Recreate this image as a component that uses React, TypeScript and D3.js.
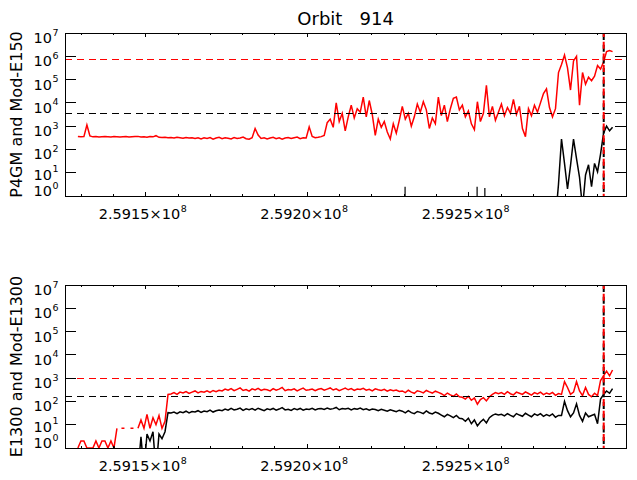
import * as d3 from 'd3';

// instrument time grid (s)
const T0 = 259129000;
const DT = 930;

const X_DOMAIN: [number, number] = [259125100, 259298700];
const xMajorTicks = [259150000, 259200000, 259250000];
const xMinorTicks = d3.range(259130000, 259298700, 10000);
const yTickExponents = [0, 1, 2, 3, 4, 5, 6, 7];

const titleText = 'Orbit   914';
const topYTitle = 'P4GM and Mod-E150';
const bottomYTitle = 'E1300 and Mod-E1300';

// top panel: P4GM (red), Mod-E150 (black)
const topRed = [
  355, 347, 355, 1120, 380,
  347, 355, 339, 347, 355, 347, 339, 355, 347, 339, 347, 355, 339, 347, 355, 363, 339, 347, 331, 355,
  347, 389, 331,
  324, 331, 316, 324, 309, 331, 316, 302, 324, 309, 316, 295, 316,
  282, 316, 295, 324, 275, 309, 331, 288, 316, 302, 282, 324, 295, 309, 339, 288, 275, 316,
  794, 417,
  295, 316, 282, 309, 331, 288, 316, 275, 309, 324, 295, 316, 339, 288, 316, 309,
  933, 363, 316, 331, 355, 398,
  1410, 2000, 890, 10000, 1580, 3550, 630, 2510, 7940, 2240, 5620, 3980, 17800, 2510, 12600, 3160,
  398, 2000, 890, 1580, 562, 282, 1260, 501, 1780, 7080, 2000, 3550, 1000, 2510, 8910, 3980,
  11200, 5010, 794, 2240, 1260, 17800, 2820, 7940, 1580, 5620, 15800, 17800, 5010, 7940, 2510, 4470,
  1260, 708, 11200, 1580, 3550, 56200, 2510, 7080, 1780, 3980, 8910, 2820, 6310, 3550, 14100, 3160,
  7080, 794, 355, 5620, 2820, 7940, 3980, 10000, 25100, 39800, 6310, 2510, 5620,
  200000, 447000, 1120000, 316000, 35500, 631000, 1000000, 7940, 200000, 63100, 126000, 89100,
  141000, 398000, 282000, 562000, 1580000, 1780000, 1580000,
];
const topBlackStart = 159;
const topBlack = [
  0.1, 3.2, 280, 25, 2, 20, 280, 40, 6.3, 0.3, 8, 22, 2.5, 25, 11, 63, 500, 1000, 630, 890,
];
const topBlipTimes = [259230300, 259252600, 259255000];
const topBlipValues = [2.5, 2.5, 2.2];
const topRedLevel = 7.4e5;
const topBlackLevel = 3570;

// bottom panel: E1300 (black), Mod-E1300 (red)
const bottomRed: (number | null)[] = [
  1, 2, 2, 1, 1, 1, 2, 1, 2, 2, 1, 2, 1,
  7, null, 7, null, null, 7, null,
  7, 16, 7, 28, 7, 20, 10, 25, 7, 14,
  200,
  209, 240, 200, 251, 229, 263, 219, 251, 282, 234, 269, 251, 288, 245, 295, 263, 302,
  282, 339, 302, 355, 288, 331, 380, 295, 324, 275, 347, 309, 363, 295, 331, 316, 282,
  355, 302, 339, 398, 288, 324, 309, 347, 282, 331, 372, 302, 316, 339, 288, 331,
  355, 302, 339, 380, 309, 347, 288, 331, 372, 316, 355, 295, 339, 324, 363, 302, 331,
  282, 347, 316, 295, 331, 275, 316, 288, 309, 269,
  282, 240, 302, 251, 224, 288, 263, 234, 295, 257, 229, 275, 245,
  214, 178, 229, 191, 166, 209, 158,
  151, 126, 166, 112, 141, 76, 120, 145, 105, 158,
  200, 240, 214,
  240, 200, 263, 214, 191, 251, 224, 200, 257, 219, 186, 240, 209, 251, 195, 229, 204, 245, 182, 219,
  200, 708, 398, 200, 251, 708, 282, 178, 398, 200, 158, 224, 178, 794, 1260, 2000, 1260, 2240,
];
const bottomBlackStart = 12;
const bottomBlack = [
  1.2,
  0.1, 0.1, 0.1, 0.1, 0.1, 0.1, 0.1, 0.1,
  3, 0.1, 4, 2, 5, 0.1, 4, 2.5, 5,
  33,
  32, 35, 30, 36, 33, 38, 32, 37, 35, 40, 34, 39, 36, 42, 35, 40, 43,
  40, 47, 42, 50, 43, 46, 52, 41, 48, 44, 49, 42, 51, 45, 40, 48, 44, 50, 42, 47, 54, 43, 46, 41,
  49, 44, 50, 42, 47, 45, 51, 43, 48,
  50, 45, 52, 46, 49, 55, 44, 50, 47, 51, 43, 49, 46, 52, 44, 48, 42, 47, 45, 40, 46, 42, 38, 44,
  40, 36, 42,
  38, 32, 40, 33, 30, 37, 34, 30, 39, 32, 29, 35, 31,
  26, 22, 28, 24, 20, 25, 19,
  18, 14, 19, 11, 16, 8.9, 13, 17, 12, 20,
  25, 29, 26,
  28, 24, 30, 25, 22, 30, 26, 23, 31, 26, 22, 29, 25, 30, 23, 27, 24, 29, 21, 25,
  25, 100, 40, 22, 32, 79, 25, 14, 32, 22, 25, 28, 11, 126, 200, 282, 224, 355,
];
const bottomRedLevel = 1000;
const bottomBlackLevel = 156;

const markerTime = 259291800;

const LEFT = 65.3;
const RIGHT = 626;
const PANEL_H = 163;
const FONT = 'DejaVu Sans, sans-serif';
const DATA_W = 1.5;

type Pt = [number, number | null];

function toPoints(vals: (number | null)[], start: number): Pt[] {
  return vals.map((v, i) => [T0 + (start + i) * DT, v]);
}

interface PanelProps {
  id: string;
  top: number;
  yTitle: string;
  red: (number | null)[];
  black: number[];
  blackStart: number;
  redLevel: number;
  blackLevel: number;
  blipTimes?: number[];
  blipValues?: number[];
}

function Panel({
  id,
  top,
  yTitle,
  red,
  black,
  blackStart,
  redLevel,
  blackLevel,
  blipTimes = [],
  blipValues = [],
}: PanelProps) {
  const bottom = top + PANEL_H;
  const x = d3.scaleLinear().domain(X_DOMAIN).range([LEFT, RIGHT]);
  const y = d3.scaleLog().domain([1, 1e7]).range([bottom, top]);

  const line = d3
    .line<Pt>()
    .defined((d) => d[1] != null)
    .x((d) => x(d[0]))
    .y((d) => y(d[1] as number));

  const redPts = toPoints(red, 0);
  const blackPts = toPoints(black, blackStart);
  // single samples between gaps get drawn as short dashes
  const lonely = redPts.filter(
    (d, i) => d[1] != null && redPts[i - 1]?.[1] == null && redPts[i + 1]?.[1] == null
  );

  const mx = x(markerTime);

  return (
    <g>
      <defs>
        <clipPath id={id}>
          <rect x={LEFT} y={top} width={RIGHT - LEFT} height={PANEL_H + 1} />
        </clipPath>
      </defs>

      <g clipPath={`url(#${id})`}>
        <path d={line(redPts) ?? ''} fill="none" stroke="#ff0000" strokeWidth={DATA_W} />
        {lonely.map((d, i) => (
          <line
            key={i}
            x1={x(d[0]) - 1.5}
            x2={x(d[0]) + 1.5}
            y1={y(d[1] as number)}
            y2={y(d[1] as number)}
            stroke="#ff0000"
            strokeWidth={DATA_W}
          />
        ))}
        <path d={line(blackPts) ?? ''} fill="none" stroke="#000" strokeWidth={DATA_W} />
        {blipTimes.map((t, i) => (
          <line
            key={i}
            x1={x(t)}
            x2={x(t)}
            y1={y(blipValues[i])}
            y2={bottom}
            stroke="#000"
            strokeWidth={1.2}
          />
        ))}
        <line
          x1={LEFT}
          x2={RIGHT}
          y1={y(redLevel)}
          y2={y(redLevel)}
          stroke="#ff0000"
          strokeDasharray="7 4.7"
          shapeRendering="crispEdges"
        />
        <line
          x1={LEFT}
          x2={RIGHT}
          y1={y(blackLevel)}
          y2={y(blackLevel)}
          stroke="#000"
          strokeDasharray="7 4.7"
          shapeRendering="crispEdges"
        />
      </g>

      <line
        x1={mx}
        x2={mx}
        y1={top}
        y2={bottom}
        stroke="#000"
        strokeWidth={2}
        strokeDasharray="7 4.7"
      />
      <line
        x1={mx}
        x2={mx}
        y1={top}
        y2={bottom}
        stroke="#ff0000"
        strokeWidth={2}
        strokeDasharray="7 4.7"
        strokeDashoffset={3}
      />

      <rect
        x={LEFT}
        y={top}
        width={RIGHT - LEFT}
        height={PANEL_H}
        fill="none"
        stroke="#000"
        shapeRendering="crispEdges"
      />

      {/* ticks on all four sides */}
      <g stroke="#000" shapeRendering="crispEdges">
        {xMinorTicks.map((t) => {
          const len = xMajorTicks.includes(t) ? 4 : 2;
          return (
            <g key={t}>
              <line x1={x(t)} x2={x(t)} y1={bottom} y2={bottom - len} />
              <line x1={x(t)} x2={x(t)} y1={top} y2={top + len} />
            </g>
          );
        })}
        {yTickExponents.map((e) => (
          <g key={e}>
            <line x1={LEFT} x2={LEFT + 11} y1={y(10 ** e)} y2={y(10 ** e)} />
            <line x1={RIGHT - 11} x2={RIGHT} y1={y(10 ** e)} y2={y(10 ** e)} />
          </g>
        ))}
      </g>

      {/* tick labels */}
      <g fontFamily={FONT} fontSize={14.5} fill="#000">
        {xMajorTicks.map((t) => (
          <text key={t} x={x(t) - 3} y={bottom + 23} textAnchor="middle">
            {(t / 1e8).toFixed(4)}×10
            <tspan dx={0.5} dy={-7} fontSize={9.5}>
              8
            </tspan>
          </text>
        ))}
        {yTickExponents.map((e) => {
          const ty = y(10 ** e);
          const base = e === 0 ? ty : e === 1 ? ty + 7 : ty + 10;
          return (
            <text key={e} x={52} y={base} textAnchor="end">
              10
              <tspan x={52.5} dy={-7.5} textAnchor="start" fontSize={9.5}>
                {e}
              </tspan>
            </text>
          );
        })}
      </g>

      <text
        transform={`translate(21.5,${top + PANEL_H / 2}) rotate(-90)`}
        textAnchor="middle"
        fontFamily={FONT}
        fontSize={16}
      >
        {yTitle}
      </text>
    </g>
  );
}

export default function App() {
  return (
    <svg
      width={637}
      height={480}
      style={{ position: 'absolute', left: 0, top: 0, background: '#fff' }}
    >
      <rect width={637} height={480} fill="#fff" />
      <text
        x={(LEFT + RIGHT) / 2}
        y={25}
        textAnchor="middle"
        fontFamily={FONT}
        fontSize={18}
        style={{ whiteSpace: 'pre' }}
      >
        {titleText}
      </text>
      <Panel
        id="clip-top"
        top={33}
        yTitle={topYTitle}
        red={topRed}
        black={topBlack}
        blackStart={topBlackStart}
        redLevel={topRedLevel}
        blackLevel={topBlackLevel}
        blipTimes={topBlipTimes}
        blipValues={topBlipValues}
      />
      <Panel
        id="clip-bottom"
        top={285}
        yTitle={bottomYTitle}
        red={bottomRed}
        black={bottomBlack}
        blackStart={bottomBlackStart}
        redLevel={bottomRedLevel}
        blackLevel={bottomBlackLevel}
      />
    </svg>
  );
}
